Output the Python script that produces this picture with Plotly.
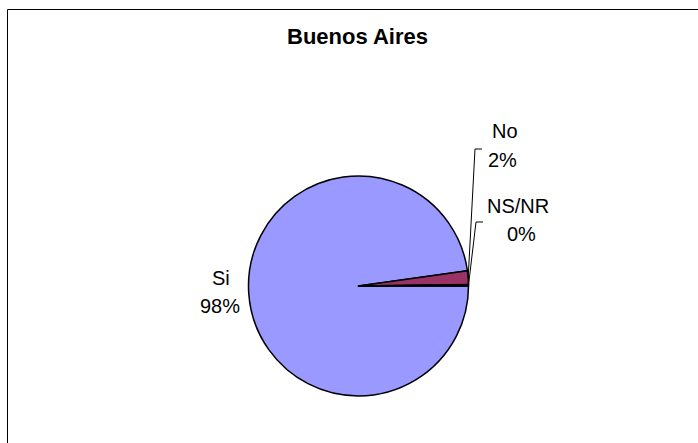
import math
import plotly.graph_objects as go

# ---- data ----
labels = ["Si", "No", "NS/NR"]
values = [97.8, 2.0, 0.2]
pct_text = ["98%", "2%", "0%"]
colors = ["#9999FF", "#993366", "#FFFFCC"]
title = "Buenos Aires"

# ---- layout constants (pixels) ----
W, H = 698, 443
CX, CY, R = 358.5, 286.0, 110.0
FONT = "Liberation Sans, Arial, sans-serif"
FS = 20

def px(x):
    return x / W

def py(y):
    return 1 - y / H

fig = go.Figure()
fig.add_trace(go.Pie(
    labels=labels, values=values, sort=False, direction="clockwise",
    rotation=90, textinfo="none", hoverinfo="label+percent",
    marker=dict(colors=colors, line=dict(color="black", width=1.5)),
    domain=dict(x=[px(CX - R), px(CX + R)], y=[py(CY + R), py(CY - R)]),
    showlegend=False,
))

# label placement: (first-line center, second-line center, elbow, tick end) in pixels
label_layout = {
    "Si": dict(l1=(221, 278), l2=(220, 306), elbow=None),
    "No": dict(l1=(505, 131), l2=(502, 160), elbow=(475, 149), tick=(482, 149)),
    "NS/NR": dict(l1=(518, 206), l2=(521, 234), elbow=(476, 222), tick=(483, 222)),
}

total = sum(values)
cum = 0.0
shapes = []
annotations = []
for lab, val, pt in zip(labels, values, pct_text):
    mid = (cum + val / 2) / total * 360.0  # clockwise from 3 o'clock
    cum += val
    # anchor point on the pie edge (screen coords, y downward)
    ax = CX + R * math.cos(math.radians(mid))
    ay = CY + R * math.sin(math.radians(mid))
    L = label_layout[lab]
    if L.get("elbow"):
        ex, ey = L["elbow"]
        tx, ty = L["tick"]
        shapes.append(dict(
            type="path", xref="paper", yref="paper",
            path=f"M {px(ax)} {py(ay)} L {px(ex)} {py(ey)} L {px(tx)} {py(ty)}",
            line=dict(color="black", width=1),
        ))
    for (x, y), txt in ((L["l1"], lab), (L["l2"], pt)):
        annotations.append(dict(
            x=px(x), y=py(y), xref="paper", yref="paper", text=txt,
            showarrow=False, xanchor="center", yanchor="middle",
            font=dict(family=FONT, size=FS, color="black"),
        ))

annotations.append(dict(
    x=px(357), y=py(36), xref="paper", yref="paper", text=f"<b>{title}</b>",
    showarrow=False, xanchor="center", yanchor="middle",
    font=dict(family=FONT, size=22, color="black"),
))

# chart area border (extends beyond the right and bottom edges)
shapes.append(dict(
    type="rect", xref="paper", yref="paper",
    x0=px(7.5), x1=px(W + 20), y0=py(H + 20), y1=py(9.5),
    line=dict(color="black", width=1), fillcolor="rgba(0,0,0,0)",
))

fig.update_layout(
    width=W, height=H, margin=dict(l=0, r=0, t=0, b=0),
    paper_bgcolor="white", plot_bgcolor="white",
    shapes=shapes, annotations=annotations,
)

fig.write_html("out.html", config={"displayModeBar": False},
               post_script="document.body.style.margin='0';")
